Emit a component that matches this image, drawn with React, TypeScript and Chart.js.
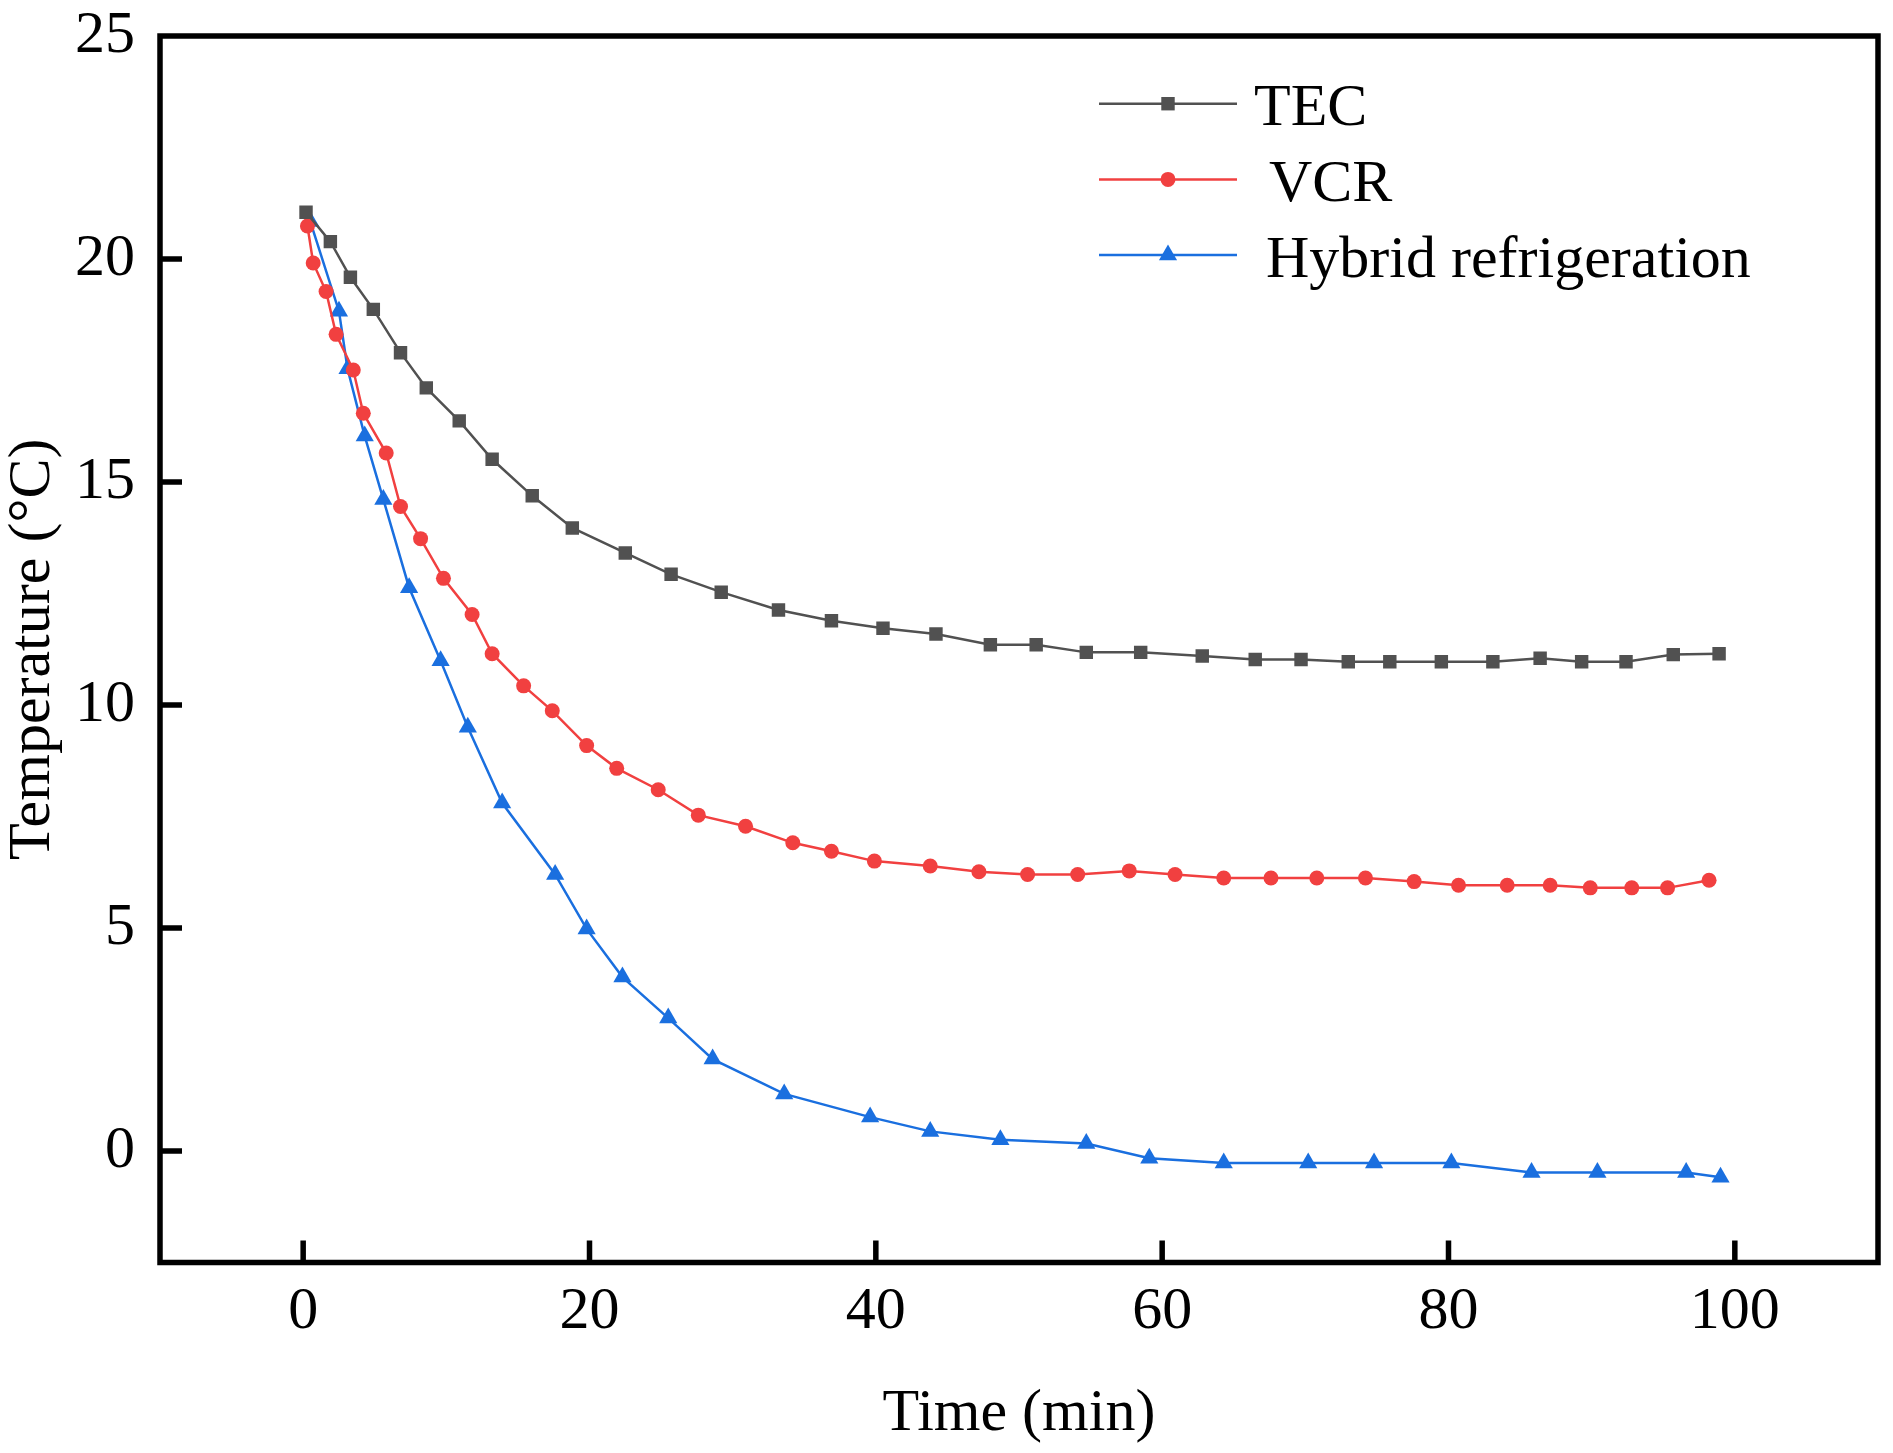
import React, { useEffect, useRef } from "react";
import { Chart, registerables } from "chart.js";

Chart.register(...registerables);

// ---------- data ----------
const TEC_TIME = [0.2, 1.9, 3.3, 4.9, 6.8, 8.6, 10.9, 13.2, 16.0, 18.8, 22.5, 25.7, 29.2, 33.2, 36.9, 40.5, 44.2, 48.0, 51.2, 54.7, 58.5, 62.8, 66.5, 69.7, 73.0, 75.9, 79.5, 83.1, 86.4, 89.3, 92.4, 95.7, 98.9];
const TEC_TEMP = [21.05, 20.39, 19.59, 18.87, 17.9, 17.11, 16.37, 15.51, 14.69, 13.97, 13.41, 12.93, 12.53, 12.13, 11.89, 11.72, 11.59, 11.35, 11.35, 11.18, 11.18, 11.1, 11.02, 11.02, 10.97, 10.97, 10.97, 10.97, 11.05, 10.97, 10.97, 11.13, 11.15];

const VCR_TIME = [0.3, 0.7, 1.6, 2.3, 3.5, 4.2, 5.8, 6.8, 8.2, 9.8, 11.8, 13.2, 15.4, 17.4, 19.8, 21.9, 24.8, 27.6, 30.9, 34.2, 36.9, 39.9, 43.8, 47.2, 50.6, 54.1, 57.7, 60.9, 64.3, 67.6, 70.8, 74.2, 77.6, 80.7, 84.1, 87.1, 89.9, 92.8, 95.3, 98.2];
const VCR_TEMP = [20.74, 19.91, 19.27, 18.31, 17.51, 16.54, 15.65, 14.45, 13.73, 12.84, 12.03, 11.15, 10.43, 9.87, 9.09, 8.58, 8.1, 7.53, 7.28, 6.91, 6.72, 6.5, 6.39, 6.26, 6.2, 6.2, 6.28, 6.2, 6.12, 6.12, 6.12, 6.12, 6.04, 5.96, 5.96, 5.96, 5.9, 5.9, 5.9, 6.07];

const HYB_TIME = [0.5, 2.5, 3.1, 4.3, 5.6, 7.4, 9.6, 11.5, 13.9, 17.6, 19.8, 22.3, 25.5, 28.6, 33.6, 39.6, 43.8, 48.7, 54.7, 59.1, 64.3, 70.2, 74.8, 80.2, 85.8, 90.4, 96.6, 99.0];
const HYB_TEMP = [20.84, 18.83, 17.54, 16.03, 14.61, 12.63, 10.99, 9.5, 7.8, 6.2, 4.98, 3.9, 2.98, 2.06, 1.28, 0.76, 0.44, 0.25, 0.17, -0.16, -0.27, -0.27, -0.27, -0.27, -0.48, -0.48, -0.48, -0.59];

const SERIES_LABELS = ["TEC", " VCR", "Hybrid refrigeration"];
const X_TICKS = [0, 20, 40, 60, 80, 100];
const Y_TICKS = [0, 5, 10, 15, 20, 25];
const X_TITLE = "Time (min)";
const Y_TITLE = "Temperature (\u00B0C)";

// ---------- styles ----------
const FONT = "'Liberation Serif', 'Times New Roman', serif";
const COLORS = ["#515151", "#F14040", "#1A6FDF"];
const STYLES = ["rect", "circle", "triangle"];
const RADII = [9.5, 7.5, 10.5];

const zip = (xs: number[], ys: number[]) => xs.map((x, i) => ({ x, y: ys[i] }));

function drawMarker(ctx: CanvasRenderingContext2D, style: string, x: number, y: number, r: number) {
  ctx.beginPath();
  if (style === "rect") {
    const s = Math.SQRT1_2 * r;
    ctx.rect(x - s, y - s, 2 * s, 2 * s);
  } else if (style === "circle") {
    ctx.arc(x, y, r, 0, Math.PI * 2);
  } else {
    const w = r * Math.sin((2 * Math.PI) / 3);
    ctx.moveTo(x, y - r);
    ctx.lineTo(x + w, y + r / 2);
    ctx.lineTo(x - w, y + r / 2);
    ctx.closePath();
  }
  ctx.fill();
}

const framePlugin = {
  id: "originFrame",
  afterDraw(chart: any) {
    const { ctx, chartArea: a, scales } = chart;
    ctx.save();
    ctx.strokeStyle = "#000";
    ctx.lineWidth = 5.5;
    ctx.lineJoin = "miter";
    ctx.lineCap = "butt";
    ctx.strokeRect(a.left, a.top, a.right - a.left, a.bottom - a.top);
    ctx.beginPath();
    for (const t of scales.x.ticks) {
      const px = scales.x.getPixelForValue(t.value);
      ctx.moveTo(px, a.bottom);
      ctx.lineTo(px, a.bottom - 22);
    }
    for (const t of scales.y.ticks) {
      const py = scales.y.getPixelForValue(t.value);
      if (py <= a.top + 2) continue;
      ctx.moveTo(a.left, py);
      ctx.lineTo(a.left + 22, py);
    }
    ctx.stroke();

    // legend (Origin style: line + marker + text)
    const x0 = 1099;
    const x1 = 1237;
    const xm = (x0 + x1) / 2;
    const textX = [1254, 1254, 1266];
    chart.data.datasets.forEach((ds: any, i: number) => {
      const y = 103.7 + i * 75.7;
      ctx.strokeStyle = ds.borderColor;
      ctx.lineWidth = ds.borderWidth;
      ctx.beginPath();
      ctx.moveTo(x0, y);
      ctx.lineTo(x1, y);
      ctx.stroke();
      ctx.fillStyle = ds.pointBackgroundColor;
      drawMarker(ctx, ds.pointStyle, xm, y, ds.pointRadius);
      ctx.fillStyle = "#000";
      ctx.font = `60px ${FONT}`;
      ctx.textAlign = "left";
      ctx.textBaseline = "alphabetic";
      ctx.fillText(ds.label, textX[i], y + 21.5);
    });
    ctx.restore();
  },
};

export default function App() {
  const ref = useRef<HTMLCanvasElement | null>(null);

  useEffect(() => {
    document.body.style.margin = "0";
    const canvas = ref.current;
    if (!canvas) return;
    const series = [
      zip(TEC_TIME, TEC_TEMP),
      zip(VCR_TIME, VCR_TEMP),
      zip(HYB_TIME, HYB_TEMP),
    ];
    const chart = new Chart(canvas, {
      type: "line",
      data: {
        datasets: series.map((d, i) => ({
          label: SERIES_LABELS[i],
          data: d,
          borderColor: COLORS[i],
          backgroundColor: COLORS[i],
          pointBackgroundColor: COLORS[i],
          pointBorderColor: COLORS[i],
          pointBorderWidth: 0,
          pointStyle: STYLES[i] as any,
          pointRadius: RADII[i],
          pointHoverRadius: RADII[i],
          borderWidth: 2.5,
          tension: 0,
          fill: false,
        })),
      },
      options: {
        animation: false,
        responsive: false,
        devicePixelRatio: 1,
        layout: { padding: { top: 36, right: 15, left: 0, bottom: 0 } },
        plugins: {
          legend: { display: false },
          tooltip: { enabled: false },
          title: { display: false },
        },
        scales: {
          x: {
            type: "linear",
            min: -10,
            max: 110,
            grid: { display: false, drawTicks: false },
            border: { display: false },
            afterBuildTicks: (s: any) => {
              s.ticks = X_TICKS.map((v) => ({ value: v }));
            },
            afterFit: (s: any) => {
              s.height = 190.5;
              s.paddingLeft = 0;
              s.paddingRight = 0;
            },
            ticks: {
              autoSkip: false,
              maxRotation: 0,
              padding: 13.5,
              color: "#000",
              font: { family: FONT, size: 60 },
            },
            title: {
              display: true,
              text: X_TITLE,
              color: "#000",
              font: { family: FONT, size: 60 },
              padding: { top: 0, bottom: 3 },
            },
          },
          y: {
            type: "linear",
            min: -2.5,
            max: 25,
            grid: { display: false, drawTicks: false },
            border: { display: false },
            afterBuildTicks: (s: any) => {
              s.ticks = Y_TICKS.map((v) => ({ value: v }));
            },
            afterFit: (s: any) => {
              s.width = 160;
              s.paddingTop = 0;
              s.paddingBottom = 0;
            },
            ticks: {
              autoSkip: false,
              padding: 25,
              color: "#000",
              font: { family: FONT, size: 60 },
            },
            title: {
              display: true,
              text: Y_TITLE,
              color: "#000",
              font: { family: FONT, size: 60 },
              padding: { top: -3, bottom: 0 },
            },
          },
        },
      },
      plugins: [framePlugin],
    });
    return () => chart.destroy();
  }, []);

  return (
    <div style={{ width: 1893, height: 1453, background: "#fff" }}>
      <canvas ref={ref} width={1893} height={1453} style={{ display: "block", width: 1893, height: 1453 }} />
    </div>
  );
}
